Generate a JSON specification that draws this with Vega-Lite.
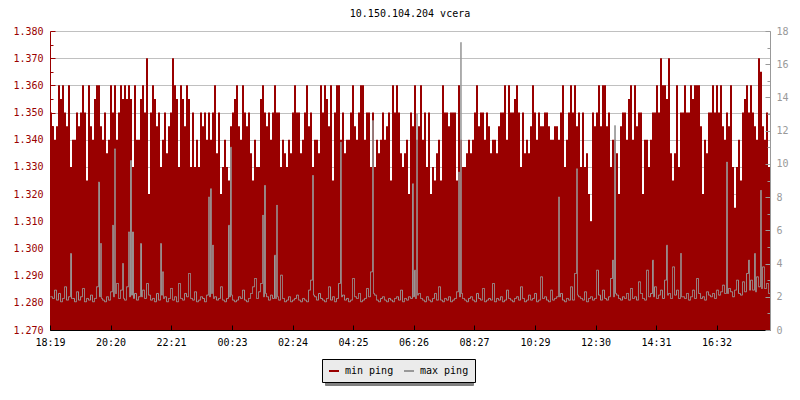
{
"$schema": "https://vega.github.io/schema/vega-lite/v6.json",
"width": 720, "height": 299,
"autosize": "none",
"padding": {"left": 50, "top": 31, "right": 30, "bottom": 70},
"background": "white",
"title": {"text": "10.150.104.204 vcera", "font": "DejaVu Sans Mono", "fontSize": 10, "fontWeight": "normal", "color": "#000000", "anchor": "middle", "offset": 7},
"config": {"view": {"stroke": null}, "axis": {"labelFont": "DejaVu Sans Mono", "labelFontSize": 10, "title": null}},
"data": {"values": [
{"m":0,"a":1.35,"b":2.0},{"m":4,"a":1.345,"b":1.9},{"m":8,"a":1.34,"b":2.4},{"m":12,"a":1.345,"b":1.8},{"m":16,"a":1.36,"b":2.2},{"m":20,"a":1.355,"b":1.7},{"m":24,"a":1.36,"b":1.9},{"m":28,"a":1.35,"b":2.6},{"m":32,"a":1.345,"b":1.8},{"m":36,"a":1.36,"b":2.0},
{"m":40,"a":1.33,"b":4.6},{"m":44,"a":1.34,"b":1.9},{"m":48,"a":1.34,"b":1.7},{"m":52,"a":1.35,"b":2.3},{"m":56,"a":1.345,"b":1.8},{"m":60,"a":1.35,"b":2.0},{"m":64,"a":1.36,"b":2.5},{"m":68,"a":1.35,"b":1.7},{"m":72,"a":1.325,"b":1.9},{"m":76,"a":1.36,"b":1.8},
{"m":80,"a":1.345,"b":2.1},{"m":84,"a":1.34,"b":1.7},{"m":88,"a":1.355,"b":1.9},{"m":92,"a":1.36,"b":2.6},{"m":96,"a":1.36,"b":8.9},{"m":100,"a":1.345,"b":5.2},{"m":104,"a":1.34,"b":1.8},{"m":108,"a":1.35,"b":1.7},{"m":112,"a":1.335,"b":2.0},{"m":116,"a":1.34,"b":1.8},
{"m":120,"a":1.36,"b":2.3},{"m":124,"a":1.35,"b":6.3},{"m":128,"a":1.36,"b":10.9},{"m":132,"a":1.34,"b":2.8},{"m":136,"a":1.35,"b":1.9},{"m":140,"a":1.36,"b":2.4},{"m":144,"a":1.355,"b":4.0},{"m":148,"a":1.36,"b":1.8},{"m":152,"a":1.355,"b":2.6},{"m":156,"a":1.36,"b":5.9},
{"m":160,"a":1.355,"b":10.2},{"m":164,"a":1.33,"b":5.9},{"m":168,"a":1.36,"b":2.2},{"m":172,"a":1.34,"b":1.8},{"m":176,"a":1.34,"b":2.0},{"m":180,"a":1.355,"b":5.2},{"m":184,"a":1.36,"b":2.4},{"m":188,"a":1.35,"b":1.9},{"m":192,"a":1.37,"b":2.8},{"m":196,"a":1.32,"b":2.1},
{"m":200,"a":1.35,"b":1.8},{"m":204,"a":1.36,"b":1.9},{"m":208,"a":1.355,"b":1.7},{"m":212,"a":1.345,"b":2.2},{"m":216,"a":1.35,"b":1.8},{"m":220,"a":1.33,"b":5.2},{"m":224,"a":1.34,"b":3.5},{"m":228,"a":1.35,"b":2.0},{"m":232,"a":1.335,"b":1.7},{"m":236,"a":1.345,"b":1.9},
{"m":240,"a":1.35,"b":2.5},{"m":244,"a":1.37,"b":1.8},{"m":248,"a":1.36,"b":2.0},{"m":252,"a":1.355,"b":1.7},{"m":256,"a":1.33,"b":2.8},{"m":260,"a":1.36,"b":1.9},{"m":264,"a":1.355,"b":1.8},{"m":268,"a":1.345,"b":2.2},{"m":272,"a":1.36,"b":2.0},{"m":276,"a":1.355,"b":3.4},
{"m":280,"a":1.33,"b":1.9},{"m":284,"a":1.35,"b":1.8},{"m":288,"a":1.33,"b":2.3},{"m":292,"a":1.34,"b":1.7},{"m":296,"a":1.33,"b":1.8},{"m":300,"a":1.35,"b":2.0},{"m":304,"a":1.345,"b":1.9},{"m":308,"a":1.35,"b":1.7},{"m":312,"a":1.34,"b":2.1},{"m":316,"a":1.35,"b":8.0},
{"m":320,"a":1.34,"b":8.5},{"m":324,"a":1.35,"b":5.1},{"m":328,"a":1.36,"b":2.0},{"m":332,"a":1.335,"b":1.8},{"m":336,"a":1.35,"b":1.9},{"m":340,"a":1.32,"b":2.6},{"m":344,"a":1.33,"b":1.8},{"m":348,"a":1.34,"b":1.7},{"m":352,"a":1.33,"b":1.9},{"m":356,"a":1.325,"b":6.3},
{"m":360,"a":1.345,"b":11.0},{"m":364,"a":1.35,"b":1.8},{"m":368,"a":1.355,"b":1.7},{"m":372,"a":1.36,"b":1.8},{"m":376,"a":1.345,"b":2.0},{"m":380,"a":1.34,"b":1.9},{"m":384,"a":1.36,"b":2.4},{"m":388,"a":1.35,"b":1.8},{"m":392,"a":1.345,"b":1.7},{"m":396,"a":1.35,"b":1.9},
{"m":400,"a":1.335,"b":2.2},{"m":404,"a":1.325,"b":2.6},{"m":408,"a":1.34,"b":3.1},{"m":412,"a":1.33,"b":1.9},{"m":416,"a":1.33,"b":2.3},{"m":420,"a":1.355,"b":2.8},{"m":424,"a":1.36,"b":6.9},{"m":428,"a":1.35,"b":8.7},{"m":432,"a":1.345,"b":2.0},{"m":436,"a":1.35,"b":1.8},
{"m":440,"a":1.34,"b":2.1},{"m":444,"a":1.35,"b":1.9},{"m":448,"a":1.36,"b":4.5},{"m":452,"a":1.35,"b":7.5},{"m":456,"a":1.35,"b":1.8},{"m":460,"a":1.33,"b":3.3},{"m":464,"a":1.34,"b":1.9},{"m":468,"a":1.335,"b":1.7},{"m":472,"a":1.33,"b":1.8},{"m":476,"a":1.34,"b":2.0},
{"m":480,"a":1.335,"b":1.7},{"m":484,"a":1.35,"b":1.8},{"m":488,"a":1.36,"b":1.9},{"m":492,"a":1.35,"b":2.1},{"m":496,"a":1.35,"b":1.8},{"m":500,"a":1.335,"b":1.7},{"m":504,"a":1.34,"b":1.9},{"m":508,"a":1.35,"b":1.8},{"m":512,"a":1.36,"b":1.7},{"m":516,"a":1.345,"b":2.4},
{"m":520,"a":1.35,"b":3.0},{"m":524,"a":1.33,"b":9.3},{"m":528,"a":1.34,"b":2.0},{"m":532,"a":1.34,"b":1.8},{"m":536,"a":1.335,"b":2.2},{"m":540,"a":1.36,"b":1.9},{"m":544,"a":1.35,"b":1.8},{"m":548,"a":1.36,"b":1.7},{"m":552,"a":1.355,"b":1.9},{"m":556,"a":1.345,"b":2.6},
{"m":560,"a":1.36,"b":1.8},{"m":564,"a":1.325,"b":2.0},{"m":568,"a":1.35,"b":1.7},{"m":572,"a":1.36,"b":1.9},{"m":576,"a":1.36,"b":2.8},{"m":580,"a":1.34,"b":11.3},{"m":584,"a":1.35,"b":2.1},{"m":588,"a":1.335,"b":1.8},{"m":592,"a":1.34,"b":1.9},{"m":596,"a":1.34,"b":1.7},
{"m":600,"a":1.35,"b":1.8},{"m":604,"a":1.36,"b":3.1},{"m":608,"a":1.345,"b":2.0},{"m":612,"a":1.34,"b":1.9},{"m":616,"a":1.35,"b":2.2},{"m":620,"a":1.36,"b":1.7},{"m":624,"a":1.36,"b":1.8},{"m":628,"a":1.34,"b":1.9},{"m":632,"a":1.35,"b":2.5},{"m":636,"a":1.35,"b":2.0},
{"m":640,"a":1.33,"b":3.5},{"m":644,"a":1.35,"b":12.6},{"m":648,"a":1.33,"b":2.1},{"m":652,"a":1.34,"b":1.8},{"m":656,"a":1.335,"b":1.7},{"m":660,"a":1.34,"b":1.9},{"m":664,"a":1.35,"b":2.0},{"m":668,"a":1.34,"b":1.8},{"m":672,"a":1.345,"b":1.7},{"m":676,"a":1.35,"b":1.9},
{"m":680,"a":1.325,"b":1.8},{"m":684,"a":1.36,"b":1.7},{"m":688,"a":1.35,"b":1.9},{"m":692,"a":1.36,"b":2.0},{"m":696,"a":1.35,"b":1.8},{"m":700,"a":1.335,"b":2.4},{"m":704,"a":1.33,"b":1.7},{"m":708,"a":1.335,"b":1.9},{"m":712,"a":1.34,"b":1.8},{"m":716,"a":1.32,"b":2.0},
{"m":720,"a":1.35,"b":1.9},{"m":724,"a":1.345,"b":8.8},{"m":728,"a":1.36,"b":3.6},{"m":732,"a":1.34,"b":13.0},{"m":736,"a":1.345,"b":2.2},{"m":740,"a":1.36,"b":1.9},{"m":744,"a":1.34,"b":1.8},{"m":748,"a":1.35,"b":1.7},{"m":752,"a":1.33,"b":2.0},{"m":756,"a":1.35,"b":1.8},
{"m":760,"a":1.32,"b":1.7},{"m":764,"a":1.33,"b":1.9},{"m":768,"a":1.325,"b":2.2},{"m":772,"a":1.335,"b":1.8},{"m":776,"a":1.34,"b":2.6},{"m":780,"a":1.325,"b":1.8},{"m":784,"a":1.36,"b":1.7},{"m":788,"a":1.35,"b":1.9},{"m":792,"a":1.35,"b":1.8},{"m":796,"a":1.345,"b":2.0},
{"m":800,"a":1.35,"b":1.7},{"m":804,"a":1.35,"b":1.8},{"m":808,"a":1.35,"b":1.9},{"m":812,"a":1.325,"b":2.3},{"m":816,"a":1.36,"b":9.5},{"m":820,"a":1.34,"b":17.3},{"m":824,"a":1.33,"b":1.9},{"m":828,"a":1.33,"b":1.8},{"m":832,"a":1.335,"b":1.7},{"m":836,"a":1.34,"b":1.9},
{"m":840,"a":1.335,"b":2.0},{"m":844,"a":1.34,"b":1.8},{"m":848,"a":1.35,"b":1.7},{"m":852,"a":1.36,"b":2.2},{"m":856,"a":1.345,"b":1.9},{"m":860,"a":1.35,"b":1.8},{"m":864,"a":1.35,"b":2.5},{"m":868,"a":1.34,"b":1.7},{"m":872,"a":1.35,"b":1.8},{"m":876,"a":1.345,"b":1.9},
{"m":880,"a":1.335,"b":1.8},{"m":884,"a":1.34,"b":2.8},{"m":888,"a":1.34,"b":1.7},{"m":892,"a":1.335,"b":1.9},{"m":896,"a":1.345,"b":1.8},{"m":900,"a":1.35,"b":2.0},{"m":904,"a":1.35,"b":1.7},{"m":908,"a":1.36,"b":1.8},{"m":912,"a":1.34,"b":2.4},{"m":916,"a":1.36,"b":1.9},
{"m":920,"a":1.35,"b":1.8},{"m":924,"a":1.35,"b":1.7},{"m":928,"a":1.355,"b":1.9},{"m":932,"a":1.36,"b":2.0},{"m":936,"a":1.35,"b":1.8},{"m":940,"a":1.33,"b":2.6},{"m":944,"a":1.35,"b":1.9},{"m":948,"a":1.335,"b":1.7},{"m":952,"a":1.34,"b":1.8},{"m":956,"a":1.335,"b":2.1},
{"m":960,"a":1.345,"b":1.8},{"m":964,"a":1.36,"b":1.9},{"m":968,"a":1.35,"b":2.2},{"m":972,"a":1.34,"b":1.7},{"m":976,"a":1.35,"b":1.8},{"m":980,"a":1.345,"b":3.2},{"m":984,"a":1.345,"b":1.9},{"m":988,"a":1.35,"b":2.0},{"m":992,"a":1.35,"b":1.8},{"m":996,"a":1.345,"b":1.7},
{"m":1000,"a":1.34,"b":2.4},{"m":1004,"a":1.34,"b":1.8},{"m":1008,"a":1.345,"b":1.9},{"m":1012,"a":1.345,"b":2.0},{"m":1016,"a":1.34,"b":8.0},{"m":1020,"a":1.35,"b":2.2},{"m":1024,"a":1.36,"b":1.8},{"m":1028,"a":1.33,"b":1.7},{"m":1032,"a":1.34,"b":1.9},{"m":1036,"a":1.35,"b":1.8},
{"m":1040,"a":1.36,"b":2.6},{"m":1044,"a":1.35,"b":1.8},{"m":1048,"a":1.36,"b":3.4},{"m":1052,"a":1.345,"b":9.7},{"m":1056,"a":1.35,"b":2.0},{"m":1060,"a":1.33,"b":1.9},{"m":1064,"a":1.35,"b":1.8},{"m":1068,"a":1.33,"b":2.3},{"m":1072,"a":1.335,"b":1.7},{"m":1076,"a":1.32,"b":1.9},
{"m":1080,"a":1.31,"b":2.0},{"m":1084,"a":1.35,"b":1.8},{"m":1088,"a":1.345,"b":1.9},{"m":1092,"a":1.35,"b":3.6},{"m":1096,"a":1.36,"b":2.1},{"m":1100,"a":1.345,"b":1.8},{"m":1104,"a":1.36,"b":2.4},{"m":1108,"a":1.36,"b":1.9},{"m":1112,"a":1.345,"b":1.8},{"m":1116,"a":1.35,"b":2.0},
{"m":1120,"a":1.33,"b":3.1},{"m":1124,"a":1.34,"b":4.2},{"m":1128,"a":1.34,"b":12.3},{"m":1132,"a":1.335,"b":2.1},{"m":1136,"a":1.32,"b":1.9},{"m":1140,"a":1.345,"b":1.8},{"m":1144,"a":1.35,"b":2.0},{"m":1148,"a":1.35,"b":1.9},{"m":1152,"a":1.34,"b":2.2},{"m":1156,"a":1.355,"b":1.8},
{"m":1160,"a":1.36,"b":2.5},{"m":1164,"a":1.34,"b":1.9},{"m":1168,"a":1.36,"b":2.0},{"m":1172,"a":1.345,"b":1.8},{"m":1176,"a":1.35,"b":2.9},{"m":1180,"a":1.35,"b":2.2},{"m":1184,"a":1.32,"b":1.9},{"m":1188,"a":1.34,"b":1.8},{"m":1192,"a":1.34,"b":3.6},{"m":1196,"a":1.33,"b":2.0},
{"m":1200,"a":1.34,"b":2.2},{"m":1204,"a":1.35,"b":4.2},{"m":1208,"a":1.35,"b":2.6},{"m":1212,"a":1.36,"b":1.9},{"m":1216,"a":1.35,"b":2.1},{"m":1220,"a":1.37,"b":2.4},{"m":1224,"a":1.36,"b":1.9},{"m":1228,"a":1.36,"b":3.0},{"m":1232,"a":1.355,"b":5.1},{"m":1236,"a":1.37,"b":2.2},
{"m":1240,"a":1.335,"b":1.9},{"m":1244,"a":1.325,"b":3.8},{"m":1248,"a":1.335,"b":2.1},{"m":1252,"a":1.36,"b":2.4},{"m":1256,"a":1.33,"b":1.9},{"m":1260,"a":1.35,"b":4.6},{"m":1264,"a":1.35,"b":2.0},{"m":1268,"a":1.36,"b":1.9},{"m":1272,"a":1.35,"b":2.2},{"m":1276,"a":1.35,"b":1.8},
{"m":1280,"a":1.36,"b":2.0},{"m":1284,"a":1.355,"b":2.4},{"m":1288,"a":1.36,"b":1.9},{"m":1292,"a":1.36,"b":3.1},{"m":1296,"a":1.36,"b":2.2},{"m":1300,"a":1.345,"b":1.9},{"m":1304,"a":1.32,"b":2.0},{"m":1308,"a":1.34,"b":1.8},{"m":1312,"a":1.335,"b":2.3},{"m":1316,"a":1.35,"b":2.1},
{"m":1320,"a":1.35,"b":2.0},{"m":1324,"a":1.36,"b":2.2},{"m":1328,"a":1.35,"b":1.9},{"m":1332,"a":1.36,"b":2.4},{"m":1336,"a":1.35,"b":2.1},{"m":1340,"a":1.36,"b":2.3},{"m":1344,"a":1.345,"b":2.7},{"m":1348,"a":1.34,"b":2.2},{"m":1352,"a":1.35,"b":10.1},{"m":1356,"a":1.345,"b":2.5},
{"m":1360,"a":1.36,"b":2.3},{"m":1364,"a":1.33,"b":2.0},{"m":1368,"a":1.315,"b":2.4},{"m":1372,"a":1.33,"b":3.0},{"m":1376,"a":1.34,"b":2.2},{"m":1380,"a":1.325,"b":2.1},{"m":1384,"a":1.35,"b":2.9},{"m":1388,"a":1.355,"b":2.3},{"m":1392,"a":1.36,"b":3.4},{"m":1396,"a":1.35,"b":4.2},
{"m":1400,"a":1.36,"b":3.0},{"m":1404,"a":1.35,"b":2.4},{"m":1408,"a":1.345,"b":4.6},{"m":1412,"a":1.34,"b":3.2},{"m":1416,"a":1.37,"b":2.6},{"m":1420,"a":1.365,"b":8.4},{"m":1424,"a":1.345,"b":3.8},{"m":1428,"a":1.34,"b":2.5},{"m":1432,"a":1.35,"b":2.8},{"m":1436,"a":1.33,"b":2.2},
{"m":1440,"a":1.33,"b":2.2},
{"m":42,"a":1.33,"b":1.9},{"m":98,"a":1.36,"b":2.0},{"m":102,"a":1.345,"b":1.9},{"m":126,"a":1.35,"b":2.0},{"m":130,"a":1.36,"b":2.2},{"m":146,"a":1.355,"b":1.9},{"m":158,"a":1.36,"b":2.0},{"m":162,"a":1.355,"b":2.1},{"m":166,"a":1.33,"b":1.9},{"m":182,"a":1.355,"b":2.0},
{"m":222,"a":1.33,"b":2.1},{"m":226,"a":1.34,"b":1.9},{"m":318,"a":1.35,"b":2.0},{"m":322,"a":1.34,"b":2.2},{"m":326,"a":1.35,"b":1.9},{"m":358,"a":1.325,"b":2.0},{"m":362,"a":1.345,"b":2.1},{"m":426,"a":1.36,"b":2.0},{"m":430,"a":1.35,"b":2.2},{"m":450,"a":1.36,"b":1.9},
{"m":454,"a":1.35,"b":2.0},{"m":526,"a":1.33,"b":2.1},{"m":582,"a":1.34,"b":2.0},{"m":646,"a":1.35,"b":2.2},{"m":726,"a":1.345,"b":2.0},{"m":730,"a":1.36,"b":1.9},{"m":734,"a":1.34,"b":2.1},{"m":818,"a":1.36,"b":2.0},{"m":822,"a":1.34,"b":2.2},{"m":1018,"a":1.34,"b":2.0},
{"m":1054,"a":1.345,"b":2.1},{"m":1126,"a":1.34,"b":2.0},{"m":1130,"a":1.34,"b":2.2},{"m":1206,"a":1.35,"b":2.0},{"m":1234,"a":1.355,"b":2.1},{"m":1262,"a":1.35,"b":2.0},{"m":1354,"a":1.35,"b":2.2},{"m":1398,"a":1.35,"b":2.4},{"m":1410,"a":1.345,"b":2.3},{"m":1422,"a":1.365,"b":2.5}
]},
"layer": [
{"mark": {"type": "area", "interpolate": "step-after", "color": "#990000", "clip": true},
 "encoding": {
  "x": {"field": "m", "type": "quantitative", "sort": "ascending", "scale": {"domain": [0, 1440], "nice": false, "zero": false},
        "axis": {"values": [0,121,242,364,485,606,727,848,970,1091,1212,1333],
                 "labelExpr": "timeFormat(datetime(2024,0,1,18,19+datum.value),'%H:%M')",
                 "grid": false, "domainColor": "#000000", "tickColor": "#000000", "tickSize": -5,
                 "labelColor": "#000000", "labelPadding": 12, "labelFlush": false, "labelOverlap": false, "labelBound": false, "zindex": 2}},
  "y": {"field": "a", "type": "quantitative", "scale": {"domain": [1.27, 1.38], "zero": false, "nice": false},
        "axis": {"values": [1.27,1.275,1.28,1.285,1.29,1.295,1.3,1.305,1.31,1.315,1.32,1.325,1.33,1.335,1.34,1.345,1.35,1.355,1.36,1.365,1.37,1.375,1.38],
                 "labelExpr": "round(datum.value*1000) % 10 == 0 ? format(datum.value, '.3f') : ''",
                 "grid": true, "gridColor": "#c0c0c0",
                 "gridOpacity": {"condition": {"test": "round(datum.value*1000) % 10 == 0", "value": 1}, "value": 0},
                 "tickSize": {"condition": {"test": "round(datum.value*1000) % 10 == 0", "value": -5}, "value": -3},
                 "domainColor": "#990000", "tickColor": "#990000", "labelColor": "#990000",
                 "labelPadding": 12, "labelOverlap": false, "labelBound": false, "labelFlush": false, "zindex": 0}}
 }},
{"mark": {"type": "line", "interpolate": "step-after", "strokeWidth": 1, "clip": true, "xOffset": 0.5},
 "encoding": {
  "x": {"field": "m", "type": "quantitative", "sort": "ascending"},
  "y": {"field": "b", "type": "quantitative", "scale": {"domain": [0, 18], "nice": false},
        "axis": {"orient": "right", "values": [0,1,2,3,4,5,6,7,8,9,10,11,12,13,14,15,16,17,18],
                 "labelExpr": "datum.value % 2 == 0 ? datum.label : ''",
                 "grid": false, "domainColor": "#999999", "tickColor": "#999999", "labelColor": "#999999",
                 "tickSize": {"condition": {"test": "datum.value % 2 == 0", "value": -5}, "value": -3},
                 "labelPadding": 11, "labelOverlap": false, "labelBound": false, "labelFlush": false, "zindex": 2}},
  "stroke": {"datum": "max ping", "type": "nominal",
             "scale": {"domain": ["min ping", "max ping"], "range": ["#990000", "#999999"]},
             "legend": {"orient": "none", "legendX": 272, "legendY": 328, "direction": "horizontal", "title": null,
                        "symbolType": "stroke", "symbolSize": 100, "symbolStrokeWidth": 2,
                        "labelFont": "DejaVu Sans Mono", "labelFontSize": 10, "labelColor": "#000000",
                        "fillColor": "#ebebeb", "strokeColor": "#000000", "padding": 6, "columnPadding": 6, "labelOffset": 5, "zindex": 2}},
  "strokeDash": {"datum": "b", "type": "nominal",
             "scale": {"domain": ["a", "b"], "range": [[1, 0], [1, 0]]},
             "legend": {"orient": "none", "legendX": 275, "legendY": 331, "direction": "horizontal", "title": null,
                        "symbolType": "stroke", "symbolSize": 100, "symbolStrokeWidth": 2, "symbolOpacity": 0,
                        "labelExpr": "'\u00a0'",
                        "labelFont": "DejaVu Sans Mono", "labelFontSize": 10, "labelColor": "#808080",
                        "fillColor": "#808080", "strokeColor": "#808080", "padding": 6, "columnPadding": 6, "labelOffset": 53, "zindex": 1}}
 }}
],
"resolve": {"scale": {"y": "independent"}}
}
